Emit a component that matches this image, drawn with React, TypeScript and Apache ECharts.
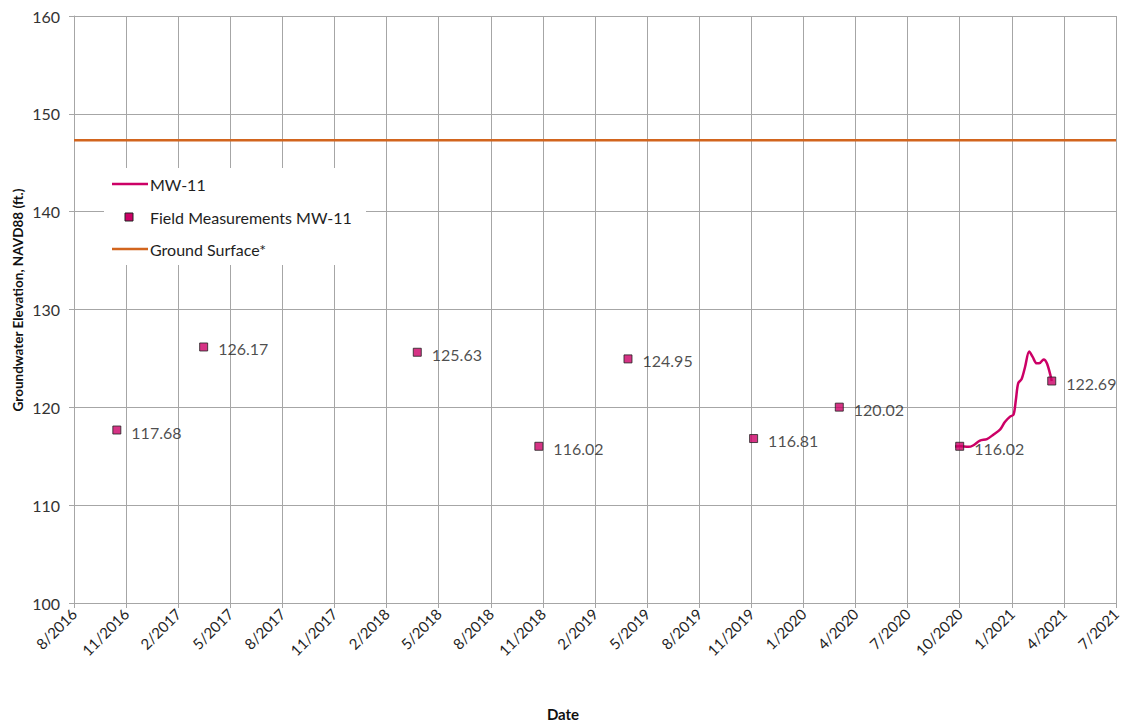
import React, { useEffect, useRef } from 'react';
import * as echarts from 'echarts';

// Axis reference: ticks every 90 days starting at this date
const START_DATE = '2016-08-18';
const X_MAX_DAYS = 1800;
const TICK_DAYS = 90;
const Y_MIN = 100;
const Y_MAX = 160;
const Y_STEP = 10;

// Field measurements MW-11
const fieldDates = [
  '2016-10-31', '2017-03-30', '2018-04-03', '2018-10-30', '2019-04-02',
  '2019-11-05', '2020-04-01', '2020-10-26', '2021-04-03',
];
const fieldValues = [117.68, 126.17, 125.63, 116.02, 124.95, 116.81, 120.02, 116.02, 122.69];

// Transducer record MW-11
const mw11Dates = [
  '2020-10-18', '2020-10-26', '2020-11-10', '2020-11-18', '2020-11-30', '2020-12-12',
  '2020-12-23', '2021-01-04', '2021-01-12', '2021-01-21', '2021-01-27', '2021-01-31',
  '2021-02-04', '2021-02-10', '2021-02-16', '2021-02-23', '2021-03-01', '2021-03-08',
  '2021-03-14', '2021-03-20', '2021-03-26', '2021-04-03',
];
const mw11Values = [
  116.0, 116.02, 115.96, 116.1, 116.6, 116.75,
  117.2, 117.75, 118.5, 119.05, 119.25, 120.75,
  122.45, 122.9, 124.15, 125.7, 125.15, 124.5,
  124.55, 124.9, 124.45, 122.7,
];

// Ground surface
const groundDates = ['2016-08-18', '2021-07-23'];
const groundValues = [147.3, 147.3];

const FONT = 'Lato';
const MAGENTA = '#cc0066';
const ORANGE = '#d2651e';
const GRID = '#a6a6a6';
const TEXT = '#1e1e1e';

const DAY_MS = 86400000;
const startMs = Date.parse(START_DATE);
const toDays = (d: string) => (Date.parse(d) - startMs) / DAY_MS;
const pair = (dates: string[], values: number[]) => dates.map((d, i) => [toDays(d), values[i]]);

const fmtTick = (v: number) => {
  const dt = new Date(startMs + Math.round(v) * DAY_MS);
  return `${dt.getUTCMonth() + 1}/${dt.getUTCFullYear()}`;
};

export default function App() {
  const ref = useRef<HTMLDivElement>(null);
  useEffect(() => {
    if (!ref.current) return;
    const chart = echarts.init(ref.current, undefined, { renderer: 'svg' });
    const lx = 112;
    chart.setOption({
      animation: false,
      backgroundColor: '#ffffff',
      textStyle: { fontFamily: FONT },
      grid: {
        left: 74, right: 10, top: 16, bottom: 119,
        containLabel: false,
        outerBoundsMode: 'none',
      },
      xAxis: {
        type: 'value',
        min: 0,
        max: X_MAX_DAYS,
        interval: TICK_DAYS,
        axisLine: { show: true, lineStyle: { color: GRID, width: 1 } },
        axisTick: { show: true, length: 5, lineStyle: { color: GRID } },
        splitLine: { show: true, lineStyle: { color: GRID, width: 1 } },
        axisLabel: {
          formatter: fmtTick,
          rotate: 45,
          margin: 8,
          fontSize: 15,
          color: TEXT,
          fontFamily: FONT,
          showMinLabel: true,
          showMaxLabel: true,
        },
      },
      yAxis: {
        type: 'value',
        min: Y_MIN,
        max: Y_MAX,
        interval: Y_STEP,
        axisLine: { show: true, lineStyle: { color: GRID, width: 1 } },
        axisTick: { show: true, length: 5, lineStyle: { color: GRID } },
        splitLine: { show: true, lineStyle: { color: GRID, width: 1 } },
        axisLabel: { fontSize: 16, color: '#333', margin: 14, fontFamily: FONT },
      },
      series: [
        {
          name: 'Ground Surface*',
          type: 'line',
          data: pair(groundDates, groundValues),
          showSymbol: false,
          symbol: 'none',
          lineStyle: { color: ORANGE, width: 2.5 },
          z: 3,
        },
        {
          name: 'MW-11',
          type: 'line',
          data: pair(mw11Dates, mw11Values),
          showSymbol: false,
          symbol: 'none',
          smooth: 0.3,
          lineStyle: { color: MAGENTA, width: 2.5 },
          z: 4,
        },
        {
          name: 'Field Measurements MW-11',
          type: 'scatter',
          data: pair(fieldDates, fieldValues),
          symbol: 'rect',
          symbolSize: 8,
          itemStyle: { color: MAGENTA, borderColor: '#222', borderWidth: 1 },
          label: {
            show: true,
            position: 'right',
            distance: 10,
            offset: [0, 2],
            formatter: (p: any) => p.value[1].toFixed(2),
            fontSize: 16,
            color: TEXT,
            fontFamily: FONT,
          },
          z: 5,
        },
      ],
      graphic: [
        {
          type: 'rect',
          shape: { x: 104, y: 168, width: 262, height: 97 },
          style: { fill: '#ffffff' },
          z: 10,
        },
        {
          type: 'line',
          shape: { x1: lx, y1: 184, x2: lx + 36, y2: 184 },
          style: { stroke: MAGENTA, lineWidth: 2.5 },
          z: 11,
        },
        {
          type: 'text',
          x: 150, y: 184,
          style: { text: 'MW-11', fontSize: 16, fill: TEXT, fontFamily: FONT, verticalAlign: 'middle' },
          z: 11,
        },
        {
          type: 'rect',
          shape: { x: 125, y: 213, width: 8, height: 8 },
          style: { fill: MAGENTA, stroke: '#222', lineWidth: 1 },
          z: 11,
        },
        {
          type: 'text',
          x: 150, y: 217,
          style: { text: 'Field Measurements MW-11', fontSize: 16, fill: TEXT, fontFamily: FONT, verticalAlign: 'middle' },
          z: 11,
        },
        {
          type: 'line',
          shape: { x1: lx, y1: 249, x2: lx + 36, y2: 249 },
          style: { stroke: ORANGE, lineWidth: 2.5 },
          z: 11,
        },
        {
          type: 'text',
          x: 150, y: 249,
          style: { text: 'Ground Surface*', fontSize: 16, fill: TEXT, fontFamily: FONT, verticalAlign: 'middle' },
          z: 11,
        },
        {
          type: 'text',
          x: 18, y: 300,
          rotation: Math.PI / 2,
          style: {
            text: 'Groundwater Elevation, NAVD88 (ft.)',
            fontSize: 13.5, fontWeight: 'bold', fill: '#111', fontFamily: FONT,
            align: 'center', verticalAlign: 'middle',
          },
          z: 11,
        },
        {
          type: 'text',
          x: 563, y: 714,
          style: { text: 'Date', fontSize: 15, fontWeight: 'bold', fill: '#111', fontFamily: FONT, align: 'center', verticalAlign: 'middle' },
          z: 11,
        },
      ],
    });
    return () => chart.dispose();
  }, []);
  return <div ref={ref} style={{ position: 'absolute', left: 0, top: 0, width: 1126, height: 722 }} />;
}
